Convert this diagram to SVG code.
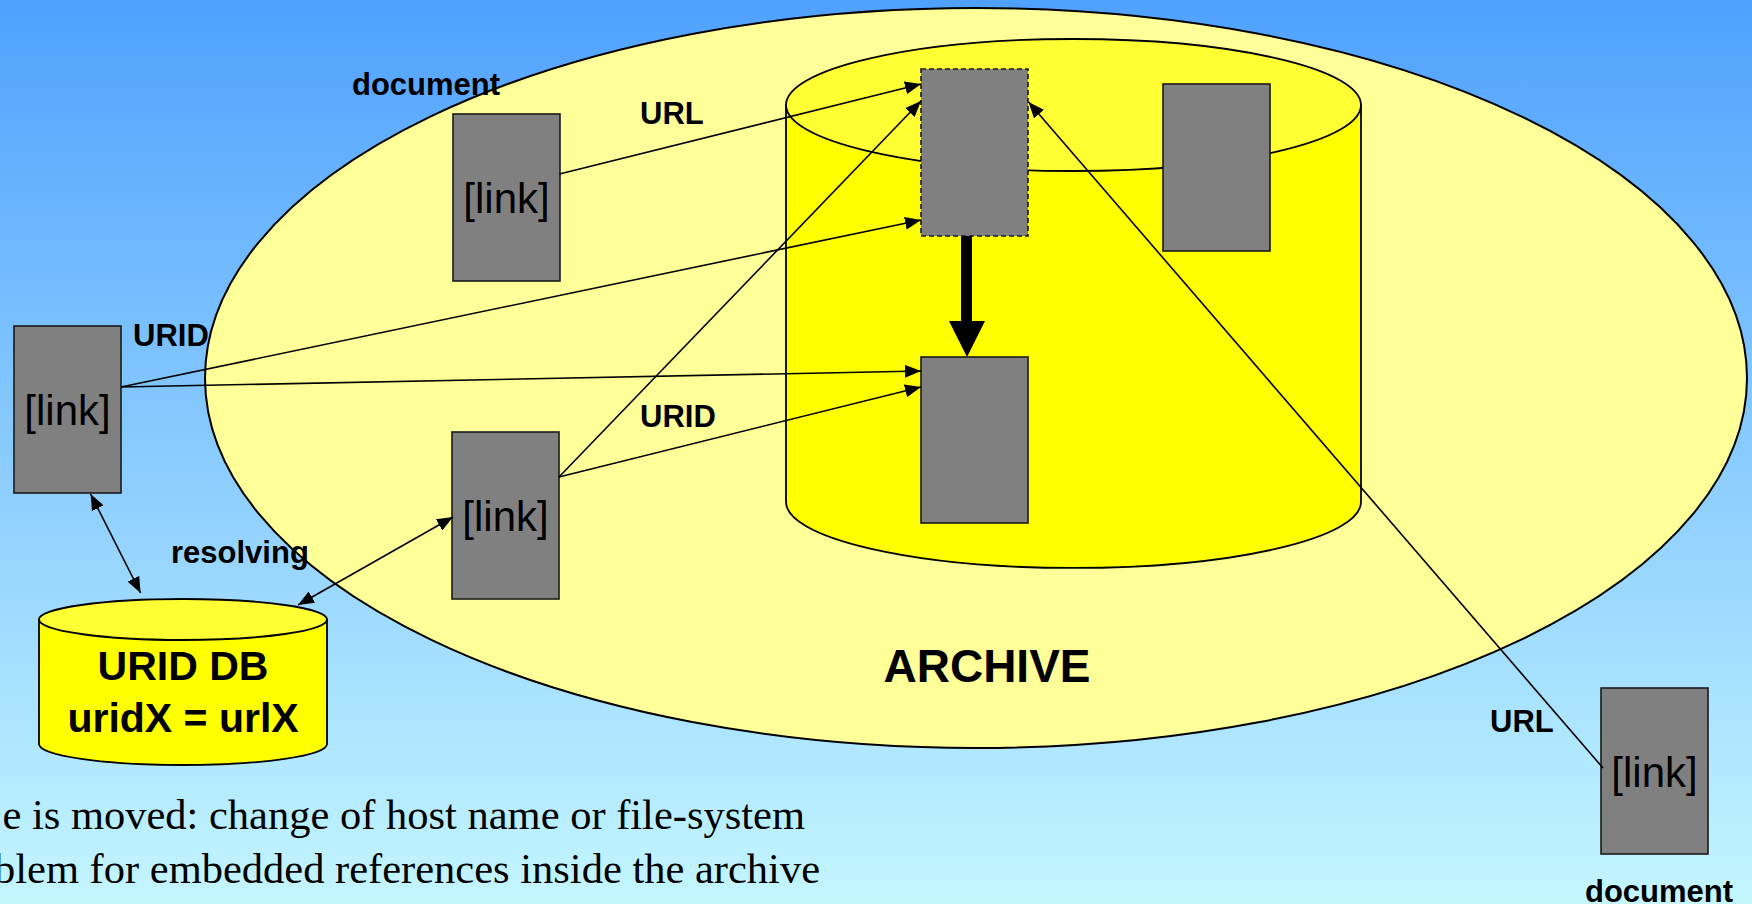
<svg xmlns="http://www.w3.org/2000/svg" width="1752" height="904" viewBox="0 0 1752 904">
  <defs>
    <linearGradient id="sky" x1="0" y1="0" x2="0" y2="1">
      <stop offset="0" stop-color="#4fa1fe"/>
      <stop offset="1" stop-color="#c4f6ff"/>
    </linearGradient>
    <marker id="arrow" viewBox="0 0 16 13" refX="16" refY="6.5" markerWidth="16" markerHeight="13" markerUnits="userSpaceOnUse" orient="auto-start-reverse">
      <path d="M0,0 L16,6.5 L0,13 Z" fill="#000"/>
    </marker>
    <style>
      .doc { fill: #808080; stroke: #1a1a1a; stroke-width: 1.6; }
      .link { font-family: "Liberation Sans", Arial, sans-serif; font-size: 42px; fill: #000; text-anchor: middle; }
      .lbl { font-family: "Liberation Sans", Arial, sans-serif; font-size: 31px; font-weight: bold; fill: #000; }
      .conn { stroke: #000; stroke-width: 1.6; fill: none; marker-end: url(#arrow); }
      .both { marker-start: url(#arrow); }
      .note { font-family: "Liberation Serif", "Times New Roman", serif; font-size: 42.5px; fill: #000; text-anchor: end; }
    </style>
  </defs>

  <!-- backdrop -->
  <rect x="0" y="0" width="1752" height="904" fill="url(#sky)"/>

  <!-- archive region -->
  <g id="archive">
    <ellipse cx="976" cy="378" rx="771" ry="370" fill="#ffff99" stroke="#000" stroke-width="2"/>
    <text x="987" y="682" class="lbl" style="font-size:46px" text-anchor="middle">ARCHIVE</text>
  </g>

  <!-- storage cylinder inside the archive -->
  <g id="store">
    <path d="M786,105 L786,502 A287.5,66 0 0 0 1361,502 L1361,105 Z" fill="#ffff00" stroke="#000" stroke-width="1.8"/>
    <ellipse cx="1073.5" cy="105" rx="287.5" ry="66" fill="#ffff33" stroke="#000" stroke-width="1.8"/>
  </g>

  <!-- resolver database -->
  <g id="urid-db">
    <path d="M39,619.5 L39,744 A144,21 0 0 0 327,744 L327,619.5 Z" fill="#ffff00" stroke="#000" stroke-width="1.8"/>
    <ellipse cx="183" cy="619.5" rx="144" ry="20.5" fill="#ffff33" stroke="#000" stroke-width="1.8"/>
    <text x="183" y="680" class="lbl" style="font-size:41px" text-anchor="middle">URID DB</text>
    <text x="183" y="732" class="lbl" style="font-size:41px" text-anchor="middle">uridX = urlX</text>
  </g>

  <!-- documents -->
  <g id="doc-top">
    <rect x="453" y="114" width="107" height="167" class="doc"/>
    <text x="506.5" y="213" class="link">[link]</text>
    <text x="352" y="95" class="lbl">document</text>
  </g>
  <g id="doc-left">
    <rect x="14" y="326" width="107" height="167" class="doc"/>
    <text x="67.5" y="425" class="link">[link]</text>
  </g>
  <g id="doc-mid">
    <rect x="452" y="432" width="107" height="167" class="doc"/>
    <text x="505.5" y="531" class="link">[link]</text>
  </g>
  <g id="doc-right">
    <rect x="1601" y="688" width="107" height="166" class="doc"/>
    <text x="1654.5" y="787" class="link">[link]</text>
    <text x="1585" y="902" class="lbl">document</text>
  </g>
  <g id="obj-old">
    <rect x="921" y="69" width="107" height="167" class="doc" stroke-dasharray="5 3"/>
  </g>
  <g id="obj-other">
    <rect x="1163" y="84" width="107" height="167" class="doc"/>
  </g>
  <g id="obj-new">
    <rect x="921" y="357" width="107" height="166" class="doc"/>
  </g>

  <!-- connectors -->
  <g id="connectors">
    <line x1="559.5" y1="174" x2="921" y2="84" class="conn"/>
    <line x1="121" y1="387" x2="921" y2="220" class="conn"/>
    <line x1="121" y1="387" x2="921" y2="371" class="conn"/>
    <line x1="559" y1="477" x2="921" y2="101" class="conn"/>
    <line x1="559" y1="477" x2="921" y2="387" class="conn"/>
    <line x1="1603" y1="768" x2="1028.5" y2="102" class="conn" stroke-width="1.4"/>
    <line x1="90.6" y1="494" x2="140.6" y2="593" class="conn both"/>
    <line x1="298" y1="605" x2="453" y2="517" class="conn both"/>
    <!-- move of the object inside the store -->
    <line x1="966.5" y1="236" x2="966.5" y2="323" stroke="#000" stroke-width="11"/>
    <polygon points="949,321 985,321 967,357" fill="#000"/>
  </g>

  <!-- connector labels -->
  <g id="labels">
    <text x="640" y="124" class="lbl">URL</text>
    <text x="133" y="346" class="lbl">URID</text>
    <text x="640" y="427" class="lbl">URID</text>
    <text x="171" y="563" class="lbl">resolving</text>
    <text x="1490" y="732" class="lbl">URL</text>
  </g>

  <!-- caption -->
  <g id="caption">
    <text x="805" y="829" class="note">e is moved: change of host name or file-system</text>
    <text x="820" y="883" class="note">blem for embedded references inside the archive</text>
  </g>
</svg>
